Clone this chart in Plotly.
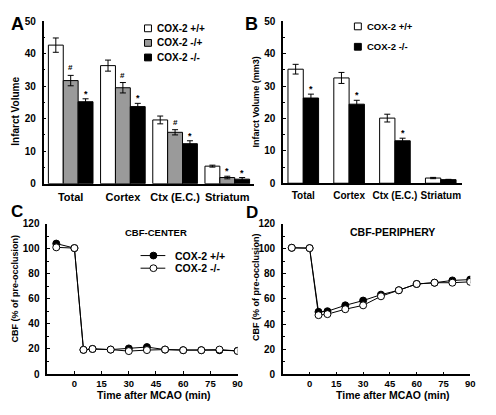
import plotly.graph_objects as go

# ---------------- data ----------------
regions = ["Total", "Cortex", "Ctx (E.C.)", "Striatum"]

a_wt = [42.6, 36.3, 19.6, 5.4]
a_wt_err = [2.2, 1.7, 1.2, 0.3]
a_het = [31.7, 29.5, 15.8, 1.9]
a_het_err = [1.6, 1.6, 0.8, 0.4]
a_ko = [25.2, 23.7, 12.3, 1.4]
a_ko_err = [0.9, 1.0, 0.9, 0.5]
a_het_marks = ["#", "#", "#", "*"]
a_ko_marks = ["*", "*", "*", "*"]

b_wt = [35.2, 32.5, 20.1, 1.6]
b_wt_err = [1.5, 1.7, 1.2, 0.2]
b_ko = [26.3, 24.4, 13.1, 1.1]
b_ko_err = [1.2, 1.2, 0.8, 0.1]
b_ko_marks = ["*", "*", "*", ""]

time_min = [-10, 0, 5, 10, 20, 30, 40, 50, 60, 70, 80, 90]
c_wt = [104, 100.4, 19.3, 20, 19.5, 20.4, 21.5, 19.5, 19, 19, 19, 18.5]
c_ko = [101, 100.4, 19.3, 20, 19.5, 18.3, 19.1, 19.5, 19, 19, 19.5, 18.4]
d_wt = [100.7, 100.4, 49.7, 50.2, 54.9, 58.7, 63.4, 66.9, 71.9, 72.9, 74.7, 75.4]
d_ko = [100.7, 100.4, 47.1, 47.9, 51.8, 54.9, 62.1, 66.9, 71.9, 72.9, 72.9, 73.6]

y_ticks_bar = [0, 10, 20, 30, 40, 50]
y_ticks_cbf = [0, 20, 40, 60, 80, 100, 120]
x_ticks_cbf = [0, 15, 30, 45, 60, 75, 90]

W, H = 496, 415
FONT = "Liberation Sans"
GRAY = "#9a9a9a"


def px(x):
    return x / W


def py(y):
    return 1 - y / H


fig = go.Figure()
annotations = []

# ---------------- panel A bars ----------------
a_width = 0.285
a_series = [
    ("COX-2 +/+", a_wt, a_wt_err, "white", None),
    ("COX-2 -/+", a_het, a_het_err, GRAY, a_het_marks),
    ("COX-2 -/-", a_ko, a_ko_err, "black", a_ko_marks),
]
for j, (name, vals, errs, col, marks) in enumerate(a_series):
    off = -1.5 * a_width + j * a_width
    fig.add_trace(go.Bar(
        x=regions, y=vals, name=name, width=a_width, offset=off,
        marker=dict(color=col, line=dict(color="black", width=1)),
        error_y=dict(type="data", array=errs, color="black", thickness=1, width=3),
        xaxis="x", yaxis="y", showlegend=False))
    if marks:
        for i, m in enumerate(marks):
            if m:
                annotations.append(dict(
                    x=i + off + a_width / 2, y=vals[i] + errs[i], xref="x", yref="y",
                    text=m, showarrow=False, yanchor="bottom", yshift=1 if m == "#" else -2,
                    font=dict(family=FONT, size=8 if m == "#" else 9, color="black", weight="bold")))

# ---------------- panel B bars ----------------
b_width = 0.334
b_series = [
    ("COX-2 +/+", b_wt, b_wt_err, "white", None),
    ("COX-2 -/-", b_ko, b_ko_err, "black", b_ko_marks),
]
for j, (name, vals, errs, col, marks) in enumerate(b_series):
    off = -b_width + j * b_width
    fig.add_trace(go.Bar(
        x=regions, y=vals, name=name, width=b_width, offset=off,
        marker=dict(color=col, line=dict(color="black", width=1)),
        error_y=dict(type="data", array=errs, color="black", thickness=1, width=3),
        xaxis="x2", yaxis="y2", showlegend=False))
    if marks:
        for i, m in enumerate(marks):
            if m:
                annotations.append(dict(
                    x=i + off + b_width / 2, y=vals[i] + errs[i], xref="x2", yref="y2",
                    text=m, showarrow=False, yanchor="bottom", yshift=-2,
                    font=dict(family=FONT, size=9, color="black", weight="bold")))

# ---------------- panel C / D lines ----------------
for (wt, ko, xa, ya) in [(c_wt, c_ko, "x3", "y3"), (d_wt, d_ko, "x4", "y4")]:
    fig.add_trace(go.Scatter(
        x=time_min, y=wt, mode="lines+markers", name="COX-2 +/+",
        line=dict(color="black", width=1),
        marker=dict(symbol="circle", size=7, color="black", line=dict(color="black", width=1)),
        xaxis=xa, yaxis=ya, showlegend=False))
    fig.add_trace(go.Scatter(
        x=time_min, y=ko, mode="lines+markers", name="COX-2 -/-",
        line=dict(color="black", width=1),
        marker=dict(symbol="circle", size=7, color="white", line=dict(color="black", width=1)),
        xaxis=xa, yaxis=ya, showlegend=False))

# ---------------- axes ----------------
tickfont = dict(family=FONT, size=10, color="black", weight="bold")
xtickfont = dict(family=FONT, size=9.5, color="black", weight="bold")
catfont = dict(family=FONT, size=11, color="black", weight="bold")


def yax(domain, rng, tickvals, dtick_minor, anchor):
    return dict(domain=domain, range=rng, tickvals=tickvals, showline=True, linecolor="black",
                linewidth=1.5, ticks="inside", ticklen=3, tickcolor="black", showgrid=False,
                zeroline=False, tickfont=tickfont, fixedrange=True, anchor=anchor,
                ticklabelstandoff=4,
                minor=dict(dtick=dtick_minor, ticks="inside", ticklen=2, tickcolor="black"))


def xcat(domain, rng, anchor):
    return dict(domain=domain, range=rng, type="category", showline=True, linecolor="black",
                linewidth=1.5, ticks="", tickfont=catfont, anchor=anchor, showgrid=False,
                tickangle=0, ticklabelstandoff=2)


def xnum(domain, anchor):
    return dict(domain=domain, range=[-15, 90], tickvals=x_ticks_cbf, showline=True,
                linecolor="black", linewidth=1.5, ticks="inside", ticklen=3, tickcolor="black",
                tickfont=xtickfont, anchor=anchor, showgrid=False, zeroline=False)


fig.update_layout(
    width=W, height=H, margin=dict(l=0, r=0, t=0, b=0),
    paper_bgcolor="white", plot_bgcolor="white",
    xaxis=xcat([px(44), px(257)], [-0.52, 3.52], "y"),
    yaxis=yax([py(183), py(15.5)], [0, 50], y_ticks_bar, 5, "x"),
    xaxis2=xcat([px(286), px(467)], [-0.44, 3.47], "y2"),
    yaxis2=yax([py(182.5), py(15.7)], [0, 50], y_ticks_bar, 5, "x2"),
    xaxis3=xnum([px(47.7), px(240)], "y3"),
    yaxis3=yax([py(379), py(224)], [0, 120], y_ticks_cbf, 10, "x3"),
    xaxis4=xnum([px(285.7), px(475)], "y4"),
    yaxis4=yax([py(379.3), py(224)], [0, 120], y_ticks_cbf, 10, "x4"),
)
fig.update_layout(xaxis2=dict(tickfont=dict(size=10)))


# ---------------- text annotations ----------------
def txt(x, y, text, size, angle=0, xanchor="center"):
    annotations.append(dict(x=px(x), y=py(y), xref="paper", yref="paper", text=text,
                            showarrow=False, textangle=angle, xanchor=xanchor, yanchor="middle",
                            font=dict(family=FONT, size=size, color="black", weight="bold")))


txt(18, 19, "A", 18)
txt(254, 19, "B", 18)
txt(17, 212, "C", 17)
txt(255, 213, "D", 17)
txt(16, 108, "Infarct Volume", 10, -90)
txt(259, 99, "Infarct Volume (mm3)", 9, -90)
txt(15, 291, "CBF (% of pre-occlusion)", 9, -90)
txt(258, 289, "CBF (% of pre-occlusion)", 9, -90)
txt(156, 401, "Time after MCAO (min)", 10.5)
txt(397, 401, "Time after MCAO (min)", 10.5)
txt(158, 233, "CBF-CENTER", 9.5)
txt(397, 233, "CBF-PERIPHERY", 10.5)

# legends (drawn as layout decoration)
shapes = []
leg_a = [("COX-2 +/+", "white", 23), ("COX-2 -/+", GRAY, 38), ("COX-2 -/-", "black", 53)]
for name, col, yc in leg_a:
    shapes.append(dict(type="rect", xref="paper", yref="paper", x0=px(146), x1=px(153),
                       y0=py(yc + 3.5), y1=py(yc - 3.5), fillcolor=col,
                       line=dict(color="black", width=1)))
    txt(157, yc, name, 10, xanchor="left")

leg_b = [("COX-2 +/+", "white", 21), ("COX-2 -/-", "black", 42)]
for name, col, yc in leg_b:
    shapes.append(dict(type="rect", xref="paper", yref="paper", x0=px(358), x1=px(365),
                       y0=py(yc + 3.5), y1=py(yc - 3.5), fillcolor=col,
                       line=dict(color="black", width=1)))
    txt(369, yc, name, 9.5, xanchor="left")

leg_c = [("COX-2 +/+", "black", 257), ("COX-2 -/-", "white", 270)]
for name, col, yc in leg_c:
    shapes.append(dict(type="line", xref="paper", yref="paper", x0=px(142), x1=px(167),
                       y0=py(yc), y1=py(yc), line=dict(color="black", width=1)))
    shapes.append(dict(type="circle", xref="paper", yref="paper", x0=px(151.5), x1=px(158.5),
                       y0=py(yc + 3.5), y1=py(yc - 3.5), fillcolor=col,
                       line=dict(color="black", width=1)))
    txt(175, yc, name, 10.5, xanchor="left")

fig.update_layout(annotations=annotations, shapes=shapes, showlegend=False)

fig.write_html("out.html", config={"displayModeBar": False},
               post_script="document.body.style.margin='0px';")
